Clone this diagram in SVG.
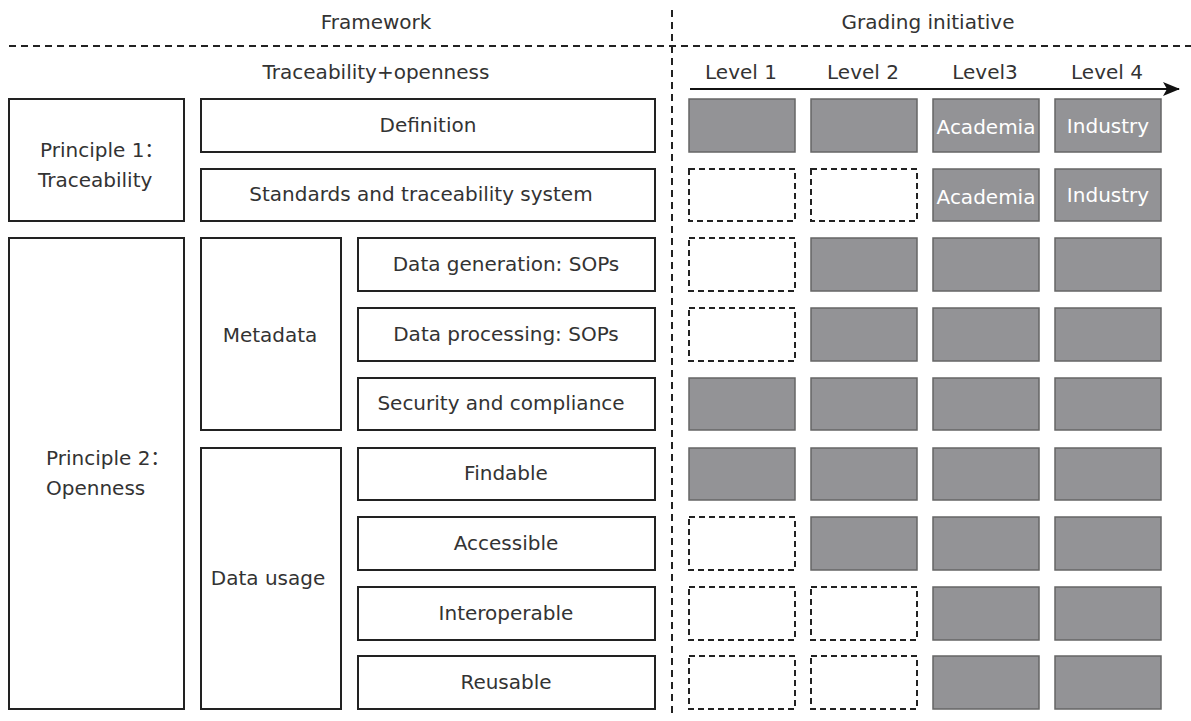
<svg xmlns="http://www.w3.org/2000/svg" width="1191" height="721" viewBox="0 0 1191 721">
  <defs>
    <style>
      .t { font-family: "DejaVu Sans", "Noto Sans CJK SC", sans-serif; font-size: 20px; fill: #333; }
      .c { text-anchor: middle; }
      .w { fill: #fff; }
      .box { fill: #fff; stroke: #222; stroke-width: 2; }
      .on { fill: #939396; stroke: #666; stroke-width: 1.5; }
      .off { fill: #fff; stroke: #222; stroke-width: 2; stroke-dasharray: 6 4; }
      .sep { fill: none; stroke: #222; stroke-width: 2; stroke-dasharray: 7 5; }
    </style>
    <marker id="arrow" viewBox="0 0 17 14" refX="16" refY="7" markerWidth="17" markerHeight="14" markerUnits="userSpaceOnUse" orient="auto">
      <path d="M0,0 L17,7 L0,14 L4,7 Z" fill="#111"/>
    </marker>
  </defs>

  <!-- section headers and separators -->
  <g id="headers">
    <text class="t c" x="376" y="29">Framework</text>
    <text class="t c" x="928" y="29">Grading initiative</text>
    <text class="t c" x="376" y="79">Traceability+openness</text>
    <text class="t c" x="741" y="79">Level 1</text>
    <text class="t c" x="863" y="79">Level 2</text>
    <text class="t c" x="985" y="79">Level3</text>
    <text class="t c" x="1107" y="79">Level 4</text>
  </g>
  <g id="connectors">
    <line class="sep" x1="9" y1="46" x2="1191" y2="46"/>
    <line class="sep" x1="672" y1="10" x2="672" y2="716"/>
    <line x1="690" y1="89" x2="1179" y2="89" stroke="#111" stroke-width="2" marker-end="url(#arrow)"/>
  </g>

  <!-- framework column -->
  <g id="principle1">
    <rect class="box" x="9" y="99" width="175" height="122"/>
    <text class="t" x="40" y="157">Principle 1：</text>
    <text class="t" x="38" y="187">Traceability</text>
  </g>
  <g id="principle2">
    <rect class="box" x="9" y="238" width="175" height="471"/>
    <text class="t" x="46" y="465">Principle 2：</text>
    <text class="t" x="46" y="495">Openness</text>
  </g>
  <g id="metadata">
    <rect class="box" x="201" y="238" width="140" height="192"/>
    <text class="t c" x="270" y="342">Metadata</text>
  </g>
  <g id="data-usage">
    <rect class="box" x="201" y="448" width="140" height="261"/>
    <text class="t c" x="268" y="585">Data usage</text>
  </g>
  <g id="definition">
    <rect class="box" x="201" y="99" width="454" height="53"/>
    <text class="t c" x="428" y="132">Definition</text>
  </g>
  <g id="standards">
    <rect class="box" x="201" y="169" width="454" height="52"/>
    <text class="t c" x="421" y="201">Standards and traceability system</text>
  </g>
  <g id="data-generation">
    <rect class="box" x="358" y="238" width="297" height="53"/>
    <text class="t c" x="506" y="271">Data generation: SOPs</text>
  </g>
  <g id="data-processing">
    <rect class="box" x="358" y="308" width="297" height="53"/>
    <text class="t c" x="506" y="341">Data processing: SOPs</text>
  </g>
  <g id="security">
    <rect class="box" x="358" y="378" width="297" height="52"/>
    <text class="t c" x="501" y="410">Security and compliance</text>
  </g>
  <g id="findable">
    <rect class="box" x="358" y="448" width="297" height="52"/>
    <text class="t c" x="506" y="480">Findable</text>
  </g>
  <g id="accessible">
    <rect class="box" x="358" y="517" width="297" height="53"/>
    <text class="t c" x="506" y="550">Accessible</text>
  </g>
  <g id="interoperable">
    <rect class="box" x="358" y="587" width="297" height="53"/>
    <text class="t c" x="506" y="620">Interoperable</text>
  </g>
  <g id="reusable">
    <rect class="box" x="358" y="656" width="297" height="53"/>
    <text class="t c" x="506" y="689">Reusable</text>
  </g>

  <!-- grading grid: columns at 689 / 811 / 933 / 1055 -->
  <g id="grade-definition">
    <rect class="on" x="689" y="99" width="106" height="53"/>
    <rect class="on" x="811" y="99" width="106" height="53"/>
    <rect class="on" x="933" y="99" width="106" height="53"/>
    <rect class="on" x="1055" y="99" width="106" height="53"/>
    <text class="t c w" x="986" y="134">Academia</text>
    <text class="t c w" x="1108" y="133">Industry</text>
  </g>
  <g id="grade-standards">
    <rect class="off" x="689" y="169" width="106" height="52"/>
    <rect class="off" x="811" y="169" width="106" height="52"/>
    <rect class="on" x="933" y="169" width="106" height="52"/>
    <rect class="on" x="1055" y="169" width="106" height="52"/>
    <text class="t c w" x="986" y="204">Academia</text>
    <text class="t c w" x="1108" y="202">Industry</text>
  </g>
  <g id="grade-data-generation">
    <rect class="off" x="689" y="238" width="106" height="53"/>
    <rect class="on" x="811" y="238" width="106" height="53"/>
    <rect class="on" x="933" y="238" width="106" height="53"/>
    <rect class="on" x="1055" y="238" width="106" height="53"/>
  </g>
  <g id="grade-data-processing">
    <rect class="off" x="689" y="308" width="106" height="53"/>
    <rect class="on" x="811" y="308" width="106" height="53"/>
    <rect class="on" x="933" y="308" width="106" height="53"/>
    <rect class="on" x="1055" y="308" width="106" height="53"/>
  </g>
  <g id="grade-security">
    <rect class="on" x="689" y="378" width="106" height="52"/>
    <rect class="on" x="811" y="378" width="106" height="52"/>
    <rect class="on" x="933" y="378" width="106" height="52"/>
    <rect class="on" x="1055" y="378" width="106" height="52"/>
  </g>
  <g id="grade-findable">
    <rect class="on" x="689" y="448" width="106" height="52"/>
    <rect class="on" x="811" y="448" width="106" height="52"/>
    <rect class="on" x="933" y="448" width="106" height="52"/>
    <rect class="on" x="1055" y="448" width="106" height="52"/>
  </g>
  <g id="grade-accessible">
    <rect class="off" x="689" y="517" width="106" height="53"/>
    <rect class="on" x="811" y="517" width="106" height="53"/>
    <rect class="on" x="933" y="517" width="106" height="53"/>
    <rect class="on" x="1055" y="517" width="106" height="53"/>
  </g>
  <g id="grade-interoperable">
    <rect class="off" x="689" y="587" width="106" height="53"/>
    <rect class="off" x="811" y="587" width="106" height="53"/>
    <rect class="on" x="933" y="587" width="106" height="53"/>
    <rect class="on" x="1055" y="587" width="106" height="53"/>
  </g>
  <g id="grade-reusable">
    <rect class="off" x="689" y="656" width="106" height="53"/>
    <rect class="off" x="811" y="656" width="106" height="53"/>
    <rect class="on" x="933" y="656" width="106" height="53"/>
    <rect class="on" x="1055" y="656" width="106" height="53"/>
  </g>
</svg>
